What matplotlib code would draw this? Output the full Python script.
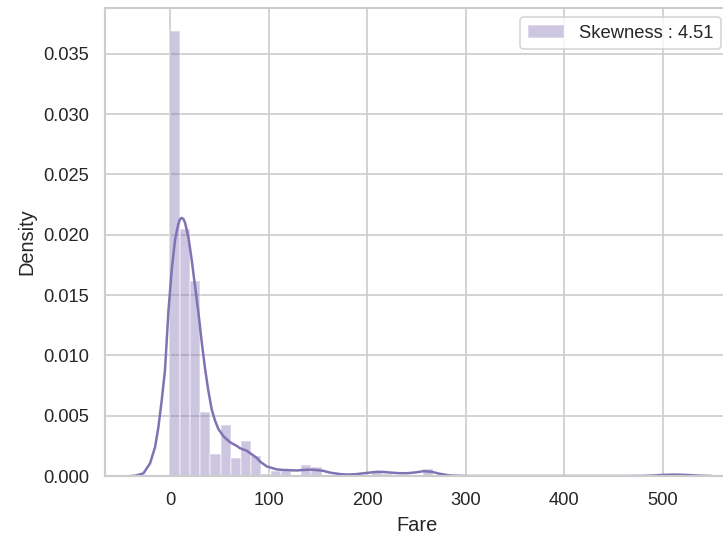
import numpy as np
import matplotlib
matplotlib.use("Agg")
import matplotlib.pyplot as plt
import seaborn as sns

sns.set_theme(style="whitegrid")
plt.rcParams['font.family'] = ['Liberation Sans', 'DejaVu Sans']

# histogram: 50 equal bins from 0 to max fare, heights are densities
fare_max = 512.33
n_bins = 50
bin_density = [0.0369, 0.0205, 0.0162, 0.0053, 0.0018, 0.0042, 0.0015, 0.0029, 0.0017, 0.0002,
               0.00044, 0.00044, 0.0, 0.00088, 0.00077, 0.0, 0.0, 0.0, 0.0, 0.0,
               0.00036, 0.0002, 0.0, 0.0, 0.0, 0.00055, 0.0, 0.0, 0.0, 0.0,
               0.0, 0.0, 0.0, 0.0, 0.0, 0.0, 0.0, 0.0, 0.0, 0.0,
               0.0, 0.0, 0.0, 0.0, 0.0, 0.0, 0.0, 0.0, 0.0, 0.0002]

# kde curve
kde_fare = [-40, -35, -27, -20.3, -15.2, -11.9, -8.4, -5.1, -1.7, 1.7, 5.1, 8.4, 10.2, 11.9,
            13.6, 15.2, 18.6, 22, 25.4, 28.7, 32, 35.5, 38.8, 42.3, 45.6, 49, 54.1, 60.9,
            67.6, 71, 77.8, 81.1, 88, 91.3, 98, 108.2, 115, 121.7, 128.5, 135, 142, 148,
            155.5, 162.3, 172.4, 180, 189, 200, 209.6, 216, 223, 231, 240, 249, 257, 265,
            273.8, 284, 300, 350, 400, 460, 480, 490, 500, 512, 524, 534, 545, 550]
kde_density = [0.0, 0.00003, 0.00022, 0.00105, 0.0024, 0.0040, 0.0063, 0.0088, 0.0136, 0.0171,
               0.0196, 0.0209, 0.0213, 0.0214, 0.0213, 0.0210, 0.0198, 0.0179, 0.0157, 0.0136,
               0.0112, 0.0089, 0.0071, 0.0055, 0.0046, 0.0039, 0.0033, 0.0028, 0.0025, 0.0023,
               0.0021, 0.0019, 0.0015, 0.0012, 0.0008, 0.00055, 0.0005, 0.00048, 0.00046,
               0.0005, 0.00053, 0.0005, 0.00043, 0.00028, 0.00016, 0.00012, 0.00016, 0.00026,
               0.00035, 0.00034, 0.00029, 0.00024, 0.00023, 0.0003, 0.0004, 0.00036, 0.00018,
               0.00004, 0.0, 0.0, 0.0, 0.0, 0.00001, 0.00004, 0.00009, 0.00012, 0.00009,
               0.00004, 0.00001, 0.0]

skewness = 4.51

edges = np.linspace(0, fare_max, n_bins + 1)
color = sns.color_palette("deep")[4]

fig = plt.figure(figsize=(723 / 120, 538 / 120), dpi=120)
ax = fig.add_axes([0.1452, 0.1152, 0.8645, 0.8699])
ax.hist(edges[:-1], bins=edges, weights=bin_density, color=color, alpha=0.4,
        label="Skewness : %.2f" % skewness)
ax.plot(kde_fare, kde_density, color=color)
ax.set_xlim(-66, 568)
ax.set_ylim(0, 0.0388)
ax.set_xlabel("Fare")
ax.set_ylabel("Density")
ax.legend(loc="upper right")
fig.savefig("out.png", dpi=120)
